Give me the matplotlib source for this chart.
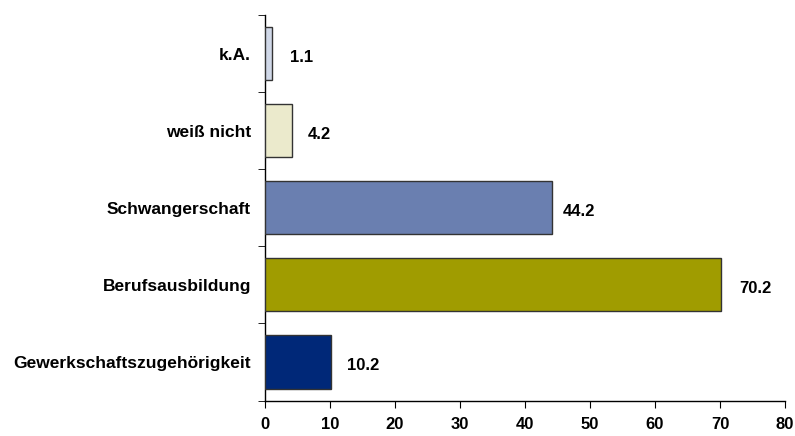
import matplotlib
matplotlib.use("Agg")
import matplotlib.pyplot as plt

categories = ["Gewerkschaftszugehörigkeit", "Berufsausbildung", "Schwangerschaft", "weiß nicht", "k.A."]
values = [10.2, 70.2, 44.2, 4.2, 1.1]
colors = ["#002878", "#A09C00", "#6A7FB0", "#EBEACC", "#D0D8E8"]
label_offsets = [16, 18, 10, 15, 18]
xticks = [0, 10, 20, 30, 40, 50, 60, 70, 80]

plt.rcParams['font.family'] = ['Liberation Sans', 'DejaVu Sans']

fig = plt.figure(figsize=(7.95, 4.36), dpi=100)
ax = fig.add_axes([265/795, 1-400.5/436, (785-265)/795, (400.5-15)/436])

y = list(range(len(categories)))
ax.barh(y, values, height=0.69, color=colors, edgecolor="#333333", linewidth=1.0, zorder=3)
for yi, v, off in zip(y, values, label_offsets):
    ax.annotate(f"{v:.1f}", (v, yi), xytext=(off, -4), textcoords="offset pixels",
                ha="left", va="center", fontsize=12, fontweight="bold")

ax.set_xlim(0, 80)
ax.set_ylim(-0.5, len(categories)-0.5)
ax.set_xticks(xticks)
ax.set_xticklabels([str(t) for t in xticks], fontsize=12, fontweight="bold")
ax.set_yticks(y)
ax.set_yticklabels(categories, fontsize=12.5, fontweight="bold")
ax.tick_params(axis="y", length=0, pad=10)
ax.set_yticks([i - 0.5 for i in range(len(categories)+1)], minor=True)
ax.tick_params(axis="y", which="minor", length=5, direction="out")
ax.tick_params(axis="x", length=5, direction="out", pad=7)
for s in ["top", "right"]:
    ax.spines[s].set_visible(False)
for s in ["left", "bottom"]:
    ax.spines[s].set_color("black")
    ax.spines[s].set_linewidth(1.0)

fig.savefig("out.png", dpi=100)
